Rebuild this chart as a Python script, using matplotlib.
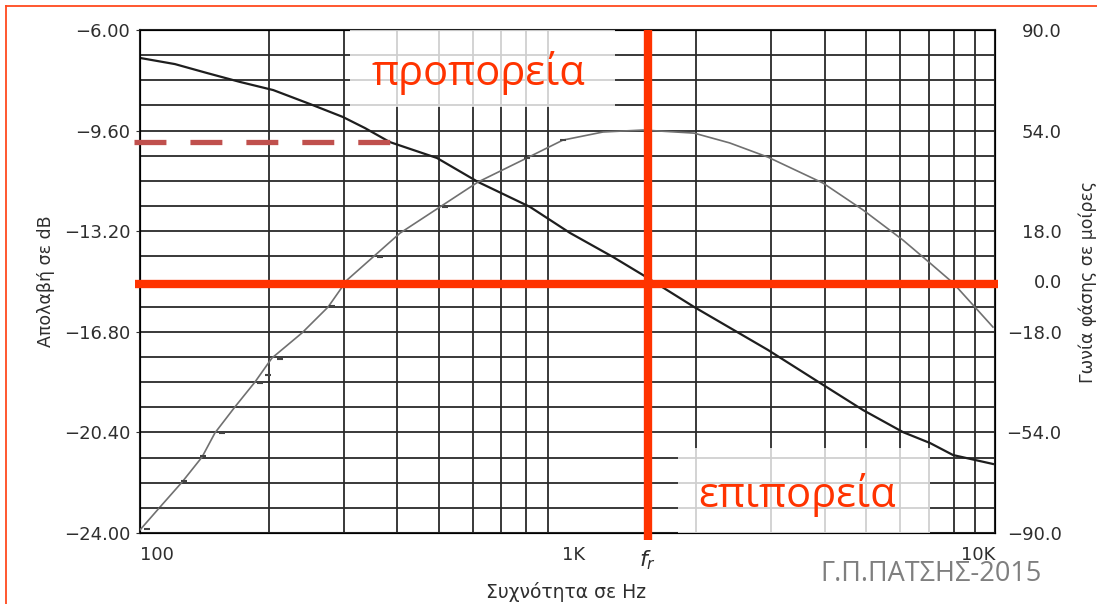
import numpy as np
import matplotlib
matplotlib.use('Agg')
import matplotlib.pyplot as plt
from matplotlib.patches import Rectangle
from matplotlib.lines import Line2D
import matplotlib.transforms as mtransforms

# amplitude response (dB) vs frequency (Hz)
freq_gain = [100, 120.7, 143.5, 171.5, 205, 249.9, 298, 336, 384, 495, 618, 817,
             1013, 1277, 1502, 1977, 2944, 3962, 4912, 6093, 7047, 7977, 9890]
gain_db = [-7.00, -7.22, -7.54, -7.86, -8.15, -8.65, -9.11, -9.51, -10.01, -10.58,
           -11.44, -12.33, -13.26, -14.12, -14.77, -15.91, -17.45, -18.70, -19.60,
           -20.39, -20.78, -21.21, -21.53]

# phase response (degrees) vs frequency (Hz)
freq_phase = [100, 111.4, 125.4, 139.7, 149.7, 166.7, 185.7, 203.5, 239.3, 275.5,
              304.9, 405.6, 503.4, 617.6, 803.7, 975.5, 1211, 1502, 1977, 2394,
              2944, 3962, 4912, 6093, 7047, 7977, 9890]
phase_deg = [-88.9, -80.7, -71.8, -62.8, -54.2, -44.9, -36.0, -27.4, -18.4, -9.1,
             0.5, 17.3, 26.7, 35.6, 44.2, 50.6, 53.5, 54.2, 53.1, 49.6,
             44.5, 35.2, 25.6, 14.8, 6.6, -0.5, -16.3]

# measured phase points
meas_freq = [103.8, 112.6, 126.7, 140.4, 155.5, 173.2, 191.0, 199.2, 212.6, 245.9,
             281.0, 364.7, 517.8, 803.7, 975.5]
meas_phase = [-88.6, -81.1, -71.4, -62.5, -54.2, -44.9, -36.3, -33.5, -27.7, -18.1,
              -8.8, 8.8, 26.7, 44.2, 50.6]

gain_ticks = [-6.0, -9.6, -13.2, -16.8, -20.4, -24.0]
phase_ticks = [90, 54, 18, 0, -18, -54, -90]
x_ticks = [100, 1000, 10000]
x_ticklabels = ['100', '1K', '10K']

f_r = 1540          # resonance frequency
ref_level = -15.1   # reference gain line
lead_level = -10.0  # gain at the dashed marker
lead_freq = 384

RED = '#ff3300'
MINUS = '\u2212'
INK = '#2e2e2e'

plt.rcParams['font.family'] = ['DejaVu Sans']

fig = plt.figure(figsize=(10.97, 6.04), dpi=100)
ax = fig.add_axes([140 / 1097, 1 - 533 / 604, 855 / 1097, 503 / 604])
ax2 = ax.twinx()

ax.set_xscale('log')
ax.set_xlim(100, 10000)
ax.set_ylim(-24, -6)
ax2.set_ylim(-90, 90)

# chart paper grid
grid_kw = dict(color='#2a2a2a', lw=1.3, zorder=1)
for dec in (100, 1000):
    for k in range(2, 10):
        ax.axvline(dec * k, **grid_kw)
for v in np.arange(-6, -24.01, -0.9):
    ax.axhline(v, **grid_kw)

for sp in ax.spines.values():
    sp.set_color('#222222')
    sp.set_linewidth(1.5)

ax.plot(freq_gain, gain_db, color='#1e1e1e', lw=1.6, zorder=3)
ax2.plot(freq_phase, phase_deg, color='#707070', lw=1.2, zorder=3)
ax2.plot(meas_freq, meas_phase, ls='none', marker='_', ms=5, mew=1.5,
         color='#444444', zorder=3)

# tick labels
ax.set_yticks(gain_ticks)
ax.set_yticklabels([f'{v:.2f}'.replace('-', MINUS) for v in gain_ticks])
ax.tick_params(axis='y', length=3, pad=4, labelsize=13, colors=INK)
ax2.set_yticks(phase_ticks)
ax2.set_yticklabels([f'{v:.1f}'.replace('-', MINUS) for v in phase_ticks])
ax2.tick_params(axis='y', length=0, pad=48, labelsize=13, colors=INK)
for lab in ax2.get_yticklabels():
    lab.set_horizontalalignment('right')

ax.set_xticks(x_ticks)
ax.set_xticklabels(x_ticklabels)
ax.xaxis.set_minor_locator(matplotlib.ticker.NullLocator())
ax.tick_params(axis='x', length=0, pad=9, labelsize=13, colors=INK)
xl = ax.get_xticklabels()
xl[0].set_horizontalalignment('left')
xl[1].set_transform(xl[1].get_transform() +
                    mtransforms.ScaledTranslation(6 / 100, 0, fig.dpi_scale_trans))
xl[2].set_horizontalalignment('right')

ax.set_ylabel('Απολαβή σε dB', fontsize=12.5, color=INK, labelpad=6)
ax2.set_ylabel('Γωνία φάσης σε μοίρες', fontsize=12.5, color=INK,
               rotation=90, labelpad=12)
ax.text(0.5 - 2 / 855, -0.118, 'Συχνότητα σε Hz', transform=ax.transAxes,
        ha='center', va='center', fontsize=13.5, color=INK)
ax.text(f_r, -24.55, '$f_r$', ha='center', va='top', fontsize=16, color=INK)

# overlays drawn in gain coordinates on the top axes
td = ax.transData
ax2.add_patch(Rectangle((310, -8.76), 1291 - 310, 2.76, transform=td,
                        facecolor='white', alpha=0.78, edgecolor='none', zorder=5))
ax2.add_patch(Rectangle((1812, -24), 7064 - 1812, 3.04, transform=td,
                        facecolor='white', alpha=0.78, edgecolor='none', zorder=5))
ax2.plot([97, lead_freq], [lead_level, lead_level], transform=td, color='#c0504d',
         lw=3.8, dashes=(6.05, 4.55), clip_on=False, zorder=6, solid_capstyle='butt',
         dash_capstyle='butt')
ax2.plot([97.3, 10170], [ref_level, ref_level], transform=td, color=RED, lw=6,
         clip_on=False, zorder=7, solid_capstyle='butt')
ax2.plot([f_r, f_r], [-6, -24.25], transform=td, color=RED, lw=6,
         clip_on=False, zorder=7, solid_capstyle='butt')

ax2.text(618, -7.55, 'προπορεία', transform=td, ha='center', va='center',
         fontsize=30, color=RED, family='Open Sans', zorder=8)
ax2.text(3444, -22.65, 'επιπορεία', transform=td, ha='center', va='center',
         fontsize=30, color=RED, family='Open Sans', zorder=8)

fig.text(820 / 1097, 1 - 574 / 604, 'Γ.Π.ΠΑΤΣΗΣ-2015', ha='left', va='center',
         fontsize=19.5, color='#7f7f7f', family='Open Sans')

# frame around the slide
fig.add_artist(Line2D([6 / 1097, 1], [1 - 6 / 604, 1 - 6 / 604],
                      transform=fig.transFigure, color='#ff4a1f', lw=1.3))
fig.add_artist(Line2D([6 / 1097, 6 / 1097], [0, 1 - 6 / 604],
                      transform=fig.transFigure, color='#ff4a1f', lw=1.3))

fig.savefig('out.png', dpi=100)
